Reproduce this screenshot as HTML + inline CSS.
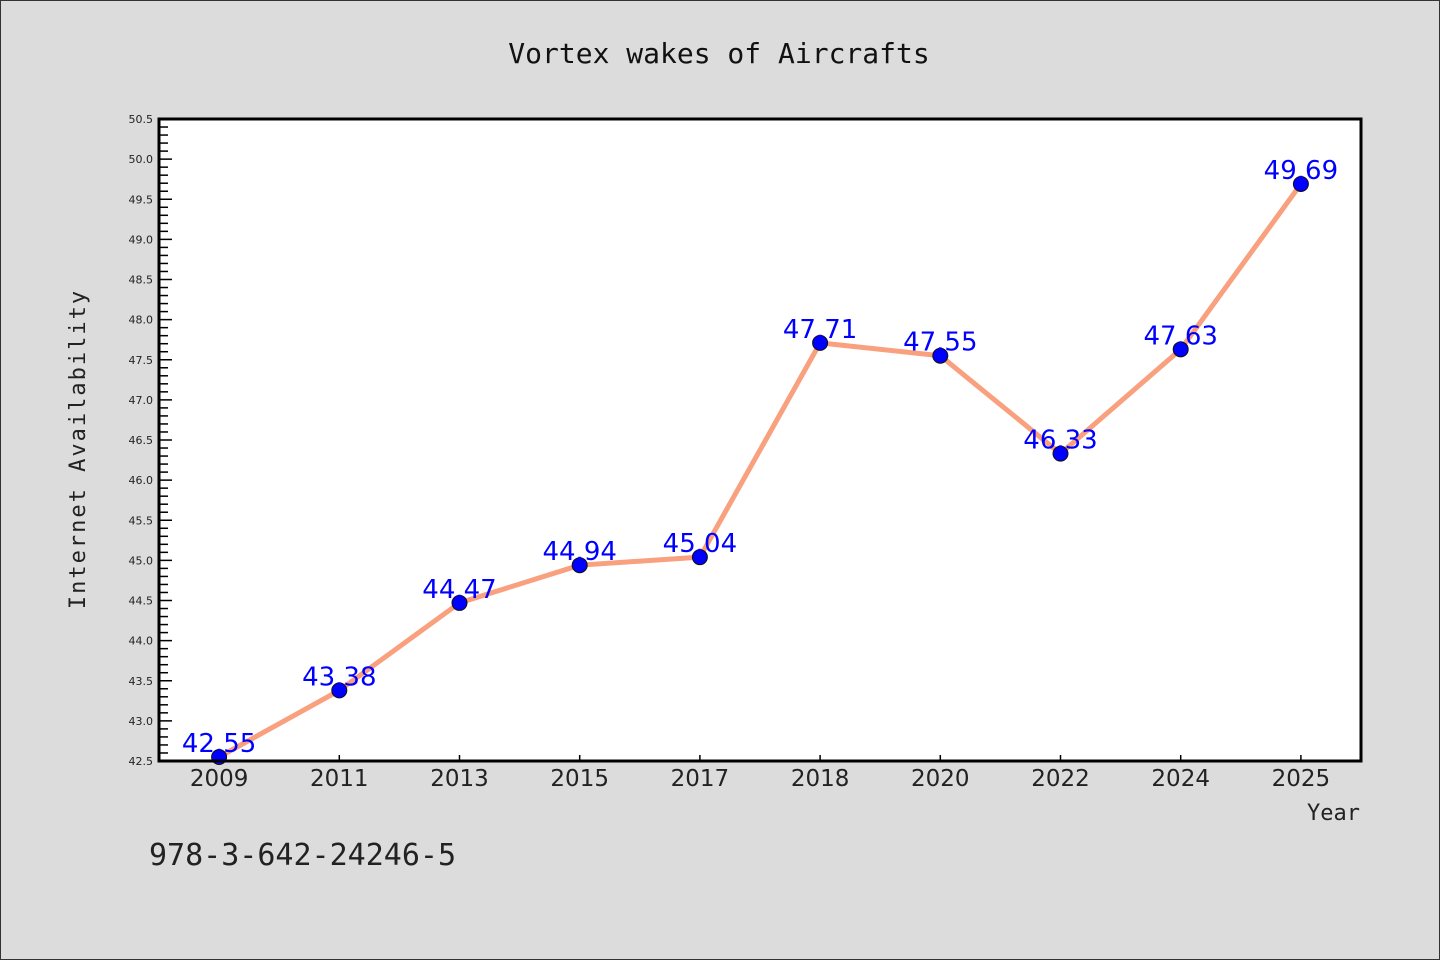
<!DOCTYPE html>
<html><head><meta charset="utf-8"><style>
html,body{margin:0;padding:0;background:#dcdcdc;}
#wrap{width:1438px;height:958px;border:1px solid #333;position:relative;}
svg{display:block;}
</style></head><body>
<div id="wrap">
<svg id="chart" width="1438" height="958" xmlns="http://www.w3.org/2000/svg">
<text x="718" y="62" text-anchor="middle" font-family="'DejaVu Sans Mono','Liberation Mono',monospace" font-size="28" fill="#111">Vortex wakes of Aircrafts</text>
<text transform="translate(84,448) rotate(-90)" text-anchor="middle" font-family="'DejaVu Sans Mono','Liberation Mono',monospace" font-size="22" letter-spacing="2" fill="#222">Internet Availability</text>
<text x="1359" y="819" text-anchor="end" font-family="'DejaVu Sans Mono','Liberation Mono',monospace" font-size="22" fill="#222">Year</text>
<text x="148" y="864" font-family="'DejaVu Sans Mono','Liberation Mono',monospace" font-size="30" fill="#222">978-3-642-24246-5</text>
<rect x="158" y="118" width="1202" height="642" fill="#fff"/>
<g id="ticks"></g>
<g id="series"></g>
<rect x="158" y="118" width="1202" height="642" fill="none" stroke="#000" stroke-width="3"/>
</svg>
</div>
<script>
const categories = ["2009","2011","2013","2015","2017","2018","2020","2022","2024","2025"];
const values = [42.55,43.38,44.47,44.94,45.04,47.71,47.55,46.33,47.63,49.69];
const valueLabels = ["42.55","43.38","44.47","44.94","45.04","47.71","47.55","46.33","47.63","49.69"];
const yMin = 42.5, yMax = 50.5;
const yTickLabels = ["42.5","43.0","43.5","44.0","44.5","45.0","45.5","46.0","46.5","47.0","47.5","48.0","48.5","49.0","49.5","50.0","50.5"];

const NS="http://www.w3.org/2000/svg";
const L=158,T=118,W=1202,H=642;
function xPos(i){return L+W/categories.length*(i+0.5);}
function yPos(v){return T+H-(v-yMin)/(yMax-yMin)*H;}
function mk(tag,attrs,parent){const e=document.createElementNS(NS,tag);for(const k in attrs)e.setAttribute(k,attrs[k]);parent.appendChild(e);return e;}
const tg=document.getElementById('ticks');
for(let k=0;k<=Math.round((yMax-yMin)*10);k++){
  const v=yMin+k*0.1;const y=yPos(v);const major=k%5===0;
  const t=mk('line',{x1:L,x2:L+(major?13:9),y1:y,y2:y,stroke:'#000','stroke-width':1.5},tg);
  
  
}
yTickLabels.forEach(s=>{
  const t=mk('text',{x:L-6,y:yPos(parseFloat(s))+4,'text-anchor':'end','font-family':"'DejaVu Sans','Liberation Sans',sans-serif",'font-size':11,fill:'#222'},tg);
  t.textContent=s;
  
  
});
categories.forEach((c,i)=>{
  const x=xPos(i);
  const tk=mk('line',{x1:x,x2:x,y1:T+H,y2:T+H-6,stroke:'#000','stroke-width':1.5},tg);
  
  
  const t=mk('text',{x:x,y:T+H+25,'text-anchor':'middle','font-family':"'DejaVu Sans','Liberation Sans',sans-serif",'font-size':23,fill:'#222'},tg);
  t.textContent=c;
  
  
});
const sg=document.getElementById('series');
const line=mk('polyline',{points:values.map((v,i)=>xPos(i)+','+yPos(v)).join(' '),fill:'none',stroke:'#f9a07e','stroke-width':5,'stroke-linejoin':'round'},sg);


values.forEach((v,i)=>{
  const c=mk('circle',{cx:xPos(i),cy:yPos(v),r:7.5,fill:'#0000ff',stroke:'#111','stroke-width':1},sg);
  
  
});
values.forEach((v,i)=>{
  const t=mk('text',{x:xPos(i),y:yPos(v)-5,'text-anchor':'middle','font-family':"'DejaVu Sans','Liberation Sans',sans-serif",'font-size':26,fill:'#0000ff'},sg);
  t.textContent=valueLabels[i];
  
  
});
</script>
</body></html>
